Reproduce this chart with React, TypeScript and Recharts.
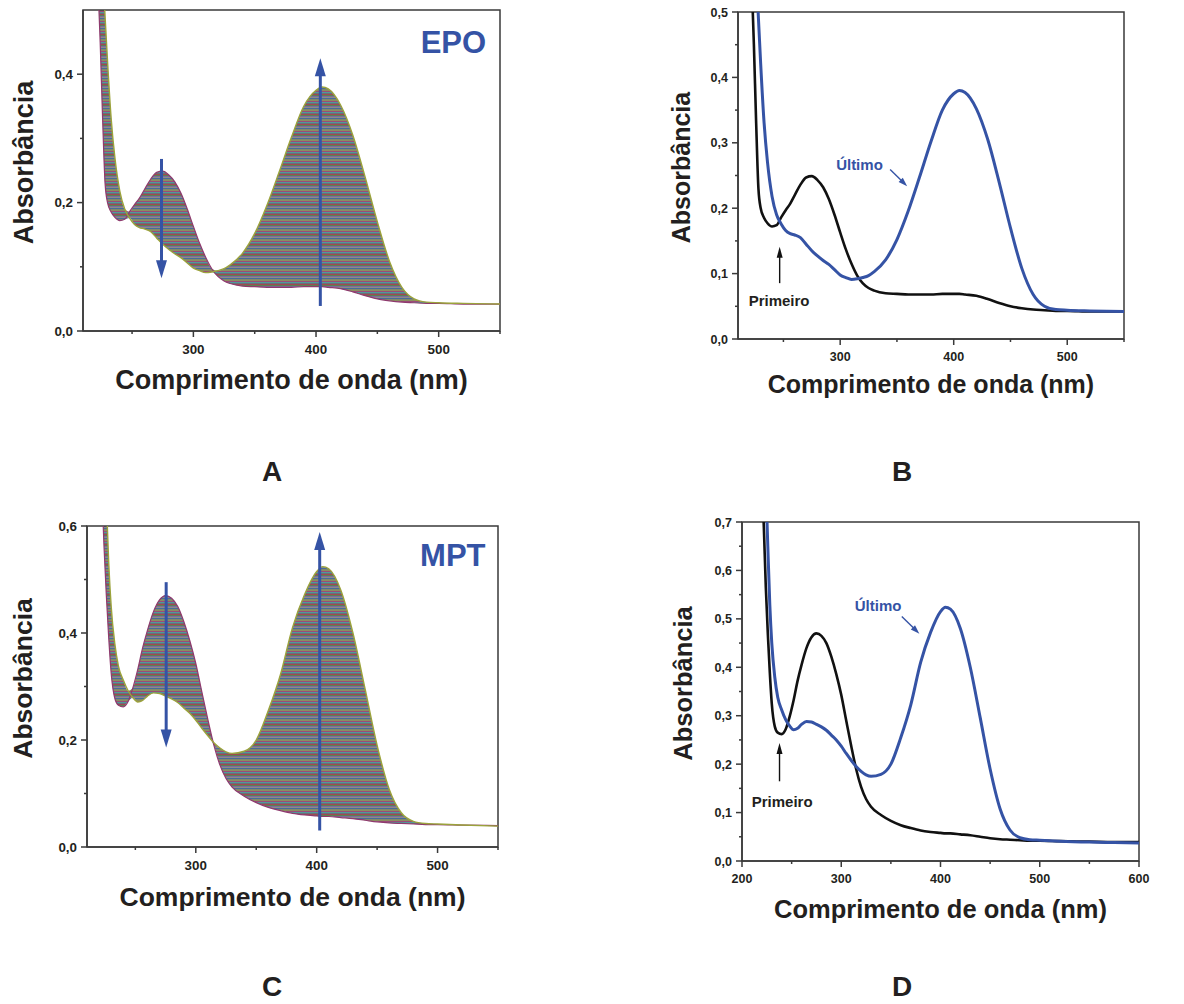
import React from 'react';
import {
  ComposedChart,
  Line,
  Area,
  XAxis,
  YAxis,
  ReferenceArea,
  ReferenceLine,
  ReferenceDot,
} from 'recharts';

const FONT = '"Liberation Sans", Arial, Helvetica, sans-serif';
const INK = '#231f20';
const AXIS = '#3a3a3a';
const BLUE = '#3553a5';

// EPO spectra (panels A and B), absorbance vs wavelength (nm)
const epoWavelength = [
  220, 222, 224, 226, 228, 230, 233, 236, 240, 244, 248, 252, 256, 260, 265, 270, 275, 280, 285, 290, 295, 300,
  305, 310, 315, 320, 325, 330, 340, 350, 360, 370, 380, 390, 400, 405, 410, 420, 430, 440, 450, 460, 470, 480,
  490, 500, 520, 550,
];
const epoFirst = [
  0.65, 0.55, 0.45, 0.33, 0.23, 0.2, 0.185, 0.177, 0.172, 0.174, 0.186, 0.197, 0.207, 0.22, 0.236, 0.247, 0.249,
  0.243, 0.232, 0.214, 0.19, 0.163, 0.137, 0.115, 0.097, 0.085, 0.078, 0.074, 0.07, 0.069, 0.068, 0.068, 0.068,
  0.069, 0.069, 0.069, 0.068, 0.066, 0.061, 0.055, 0.05, 0.047, 0.045, 0.044, 0.043, 0.043, 0.042, 0.042,
];
const epoLast = [
  0.9, 0.8, 0.68, 0.57, 0.49, 0.42, 0.33, 0.27, 0.218, 0.19, 0.176, 0.166, 0.161, 0.159, 0.155, 0.145, 0.135, 0.127,
  0.12, 0.114, 0.106, 0.098, 0.094, 0.091, 0.092, 0.094, 0.097, 0.103, 0.121, 0.152, 0.196, 0.248, 0.302, 0.35,
  0.375, 0.38, 0.377, 0.352, 0.305, 0.24, 0.17, 0.108, 0.068, 0.05, 0.045, 0.044, 0.043, 0.042,
];

// MPT spectra (panels C and D)
const mptWavelength = [
  220, 222, 224, 226, 228, 230, 233, 236, 240, 244, 248, 252, 256, 260, 265, 270, 275, 280, 285, 290, 295, 300,
  305, 310, 315, 320, 325, 330, 340, 350, 360, 370, 380, 390, 400, 405, 410, 420, 430, 440, 450, 460, 470, 480,
  490, 500, 520, 550, 575, 600,
];
const mptFirst = [
  0.8, 0.69, 0.565, 0.47, 0.39, 0.325, 0.278, 0.265, 0.262, 0.272, 0.298, 0.332, 0.372, 0.405, 0.44, 0.462, 0.47,
  0.465, 0.45, 0.422, 0.386, 0.343, 0.29, 0.238, 0.19, 0.153, 0.128, 0.112, 0.095, 0.083, 0.074, 0.068, 0.063, 0.06,
  0.058, 0.057, 0.057, 0.055, 0.053, 0.05, 0.047, 0.045, 0.044, 0.043, 0.042, 0.042, 0.041, 0.04, 0.039, 0.039,
];
const mptLast = [
  1.0, 0.9, 0.78, 0.65, 0.53, 0.45, 0.38, 0.338, 0.312, 0.292, 0.279, 0.271, 0.274, 0.282, 0.288, 0.287, 0.282,
  0.277, 0.27, 0.26, 0.25, 0.237, 0.222, 0.208, 0.195, 0.185, 0.178, 0.175, 0.179, 0.2, 0.255, 0.322, 0.41, 0.472,
  0.515, 0.524, 0.52, 0.48, 0.4, 0.296, 0.19, 0.108, 0.064, 0.048, 0.044, 0.043, 0.041, 0.039, 0.038, 0.037,
];

// colours of the densely packed intermediate spectra
const stripeColors = ['#8a8f60', '#9c4a78', '#4f9a9a', '#6a6e7a', '#a04a50', '#5c8050', '#7a6aa0', '#8c8c84', '#4a6a9a', '#7f8a6a'];

const buildRows = (wl: number[], first: number[], last: number[]) =>
  wl.map((w, i) => ({
    wl: w,
    first: first[i],
    last: last[i],
    band: [Math.min(first[i], last[i]), Math.max(first[i], last[i])],
  }));

const epoRows = buildRows(epoWavelength, epoFirst, epoLast);
const mptRows = buildRows(mptWavelength, mptFirst, mptLast);

const near = (list: number[], v: number) => list.some((m) => Math.abs(m - v) < 1e-6);

const yTick = (major: number[], fs: number) => (p: any) => {
  const v = p.payload.value;
  const isMajor = near(major, v);
  const ax = p.x + 10;
  return (
    <g>
      <line x1={ax} x2={ax - (isMajor ? 6 : 3)} y1={p.y} y2={p.y} stroke={AXIS} strokeWidth={1.5} />
      {isMajor && (
        <text x={p.x} y={p.y} dy={fs * 0.36} textAnchor="end" fontFamily={FONT} fontWeight="bold" fontSize={fs} fill={INK}>
          {v.toFixed(1).replace('.', ',')}
        </text>
      )}
    </g>
  );
};

const xTick = (major: number[], fs: number) => (p: any) => {
  const v = p.payload.value;
  const isMajor = near(major, v);
  const ay = p.y - 13;
  return (
    <g>
      <line x1={p.x} x2={p.x} y1={ay} y2={ay + (isMajor ? 6 : 3)} stroke={AXIS} strokeWidth={1.5} />
      {isMajor && (
        <text x={p.x} y={p.y} dy={fs * 0.72} textAnchor="middle" fontFamily={FONT} fontWeight="bold" fontSize={fs} fill={INK}>
          {v}
        </text>
      )}
    </g>
  );
};

const xTitle = (fs: number, below: number) => (p: any) => {
  const vb = p.viewBox;
  return (
    <text x={vb.x + vb.width / 2} y={vb.y + below} textAnchor="middle" fontFamily={FONT} fontWeight="bold" fontSize={fs} fill={INK}>
      Comprimento de onda (nm)
    </text>
  );
};

const yTitle = (fs: number, left: number) => (p: any) => {
  const vb = p.viewBox;
  const cx = vb.x + vb.width - left;
  const cy = vb.y + vb.height / 2 - 8;
  return (
    <text
      x={cx}
      y={cy}
      dy={fs * 0.36}
      transform={`rotate(-90, ${cx}, ${cy})`}
      textAnchor="middle"
      fontFamily={FONT}
      fontWeight="bold"
      fontSize={fs}
      fill={INK}
    >
      Absorbância
    </text>
  );
};

const arrowShape = (color: string, width: number, headW: number, headL: number) => (p: any) => {
  const x1 = Number(p.x1), y1 = Number(p.y1), x2 = Number(p.x2), y2 = Number(p.y2);
  const dx = x2 - x1, dy = y2 - y1;
  const len = Math.hypot(dx, dy) || 1;
  const ux = dx / len, uy = dy / len;
  const bx = x2 - ux * headL, by = y2 - uy * headL;
  const nx = -uy, ny = ux;
  return (
    <g>
      <line x1={x1} y1={y1} x2={bx + ux * 2} y2={by + uy * 2} stroke={color} strokeWidth={width} />
      <polygon
        points={`${x2},${y2} ${bx + (nx * headW) / 2},${by + (ny * headW) / 2} ${bx - (nx * headW) / 2},${by - (ny * headW) / 2}`}
        fill={color}
      />
    </g>
  );
};

const textShape = (txt: string, color: string, fs: number) => (p: any) => (
  <text x={p.cx} y={p.cy} textAnchor="middle" fontFamily={FONT} fontWeight="bold" fontSize={fs} fill={color}>
    {txt}
  </text>
);

type PanelProps = {
  left: number;
  top: number;
  width: number;
  height: number;
  margin: { top: number; right: number; bottom: number; left: number };
  yAxisWidth: number;
  rows: any[];
  xDomain: [number, number];
  xTicks: number[];
  xMajor: number[];
  yDomain: [number, number];
  yTicks: number[];
  yMajor: number[];
  tickFs: number;
  titleFs: number;
  xBelow: number;
  yLeft: number;
  family: boolean;
  patternId: string;
  notes: React.ReactNode[];
};

const Panel = (c: PanelProps) => (
  <div style={{ position: 'absolute', left: c.left, top: c.top }}>
    <ComposedChart width={c.width} height={c.height} data={c.rows} margin={c.margin}>
      <defs>
        <pattern id={c.patternId} width="6" height={stripeColors.length} patternUnits="userSpaceOnUse">
          {stripeColors.map((col, i) => (
            <rect key={col} x="0" y={i} width="6" height="1" fill={col} />
          ))}
        </pattern>
      </defs>
      <XAxis
        dataKey="wl"
        type="number"
        domain={c.xDomain}
        ticks={c.xTicks}
        interval={0}
        allowDataOverflow
        height={70}
        tickSize={6}
        tickMargin={7}
        tickLine={false}
        axisLine={{ stroke: AXIS, strokeWidth: 1.5 }}
        tick={xTick(c.xMajor, c.tickFs)}
        label={xTitle(c.titleFs, c.xBelow)}
      />
      <YAxis
        type="number"
        domain={c.yDomain}
        ticks={c.yTicks}
        interval={0}
        allowDataOverflow
        width={c.yAxisWidth}
        tickSize={6}
        tickMargin={4}
        tickLine={false}
        axisLine={{ stroke: AXIS, strokeWidth: 1.5 }}
        tick={yTick(c.yMajor, c.tickFs)}
        label={yTitle(c.titleFs, c.yLeft)}
      />
      {c.family && (
        <Area
          dataKey="band"
          type="monotone"
          stroke="none"
          fill={`url(#${c.patternId})`}
          fillOpacity={1}
          isAnimationActive={false}
          activeDot={false}
        />
      )}
      <Line
        dataKey="first"
        type="monotone"
        stroke={c.family ? '#8e3a6e' : '#111111'}
        strokeWidth={c.family ? 1.2 : 2.6}
        dot={false}
        activeDot={false}
        isAnimationActive={false}
      />
      <Line
        dataKey="last"
        type="monotone"
        stroke={c.family ? '#9ba33c' : BLUE}
        strokeWidth={c.family ? 1.4 : 3}
        dot={false}
        activeDot={false}
        isAnimationActive={false}
      />
      <ReferenceArea
        x1={c.xDomain[0]}
        x2={c.xDomain[1]}
        y1={c.yDomain[0]}
        y2={c.yDomain[1]}
        fill="none"
        stroke={AXIS}
        strokeWidth={1.5}
        fillOpacity={0}
      />
      {c.notes}
    </ComposedChart>
  </div>
);

const bigArrow = arrowShape(BLUE, 3, 11, 18);
const blackArrow = arrowShape('#111111', 1.4, 6, 11);
const blueArrow = arrowShape(BLUE, 1.4, 6, 9);

const xTicksShort = [250, 300, 350, 400, 450, 500, 550];
const xMajorShort = [300, 400, 500];

const notesA = [
  <ReferenceLine key="a1" segment={[{ x: 274, y: 0.268 }, { x: 274, y: 0.082 }]} shape={bigArrow} />,
  <ReferenceLine key="a2" segment={[{ x: 403.5, y: 0.039 }, { x: 403.5, y: 0.425 }]} shape={bigArrow} />,
  <ReferenceDot key="a3" x={512} y={0.433} r={0} shape={textShape('EPO', BLUE, 31)} />,
];

const notesB = [
  <ReferenceLine key="b1" segment={[{ x: 246.7, y: 0.0854 }, { x: 246.7, y: 0.141 }]} shape={blackArrow} />,
  <ReferenceDot key="b2" x={246.2} y={0.0508} r={0} shape={textShape('Primeiro', INK, 15)} />,
  <ReferenceDot key="b3" x={317} y={0.259} r={0} shape={textShape('Último', BLUE, 15)} />,
  <ReferenceLine key="b4" segment={[{ x: 344, y: 0.259 }, { x: 359, y: 0.2337 }]} shape={blueArrow} />,
];

const notesC = [
  <ReferenceLine key="c1" segment={[{ x: 275.5, y: 0.495 }, { x: 275.5, y: 0.186 }]} shape={bigArrow} />,
  <ReferenceLine key="c2" segment={[{ x: 402.5, y: 0.031 }, { x: 402.5, y: 0.589 }]} shape={bigArrow} />,
  <ReferenceDot key="c3" x={512.6} y={0.5245} r={0} shape={textShape('MPT', BLUE, 31)} />,
];

const notesD = [
  <ReferenceLine key="d1" segment={[{ x: 237.8, y: 0.1646 }, { x: 237.8, y: 0.2437 }]} shape={blackArrow} />,
  <ReferenceDot key="d2" x={240.5} y={0.1115} r={0} shape={textShape('Primeiro', INK, 15)} />,
  <ReferenceDot key="d3" x={337.1} y={0.5156} r={0} shape={textShape('Último', BLUE, 15)} />,
  <ReferenceLine key="d4" segment={[{ x: 361, y: 0.505 }, { x: 378.7, y: 0.4695 }]} shape={blueArrow} />,
];

const letter = (txt: string, x: number, y: number) => (
  <div
    style={{
      position: 'absolute',
      left: x - 20,
      top: y,
      width: 40,
      textAlign: 'center',
      fontFamily: FONT,
      fontWeight: 'bold',
      fontSize: 28,
      lineHeight: '28px',
      color: INK,
    }}
  >
    {txt}
  </div>
);

export default function App() {
  return (
    <div style={{ position: 'absolute', left: 0, top: 0, width: 1184, height: 1004, background: '#fff', overflow: 'hidden' }}>
      <Panel
        left={0}
        top={0}
        width={520}
        height={420}
        margin={{ top: 10, right: 20, bottom: 19, left: 0 }}
        yAxisWidth={83}
        rows={epoRows}
        xDomain={[210, 550]}
        xTicks={xTicksShort}
        xMajor={xMajorShort}
        yDomain={[0, 0.5]}
        yTicks={[0, 0.1, 0.2, 0.3, 0.4]}
        yMajor={[0, 0.2, 0.4]}
        tickFs={13.4}
        titleFs={27}
        xBelow={58}
        yLeft={60}
        family
        patternId="stripesA"
        notes={notesA}
      />
      <Panel
        left={640}
        top={0}
        width={520}
        height={420}
        margin={{ top: 12, right: 36, bottom: 11, left: 0 }}
        yAxisWidth={98}
        rows={epoRows}
        xDomain={[210, 550]}
        xTicks={xTicksShort}
        xMajor={xMajorShort}
        yDomain={[0, 0.5]}
        yTicks={[0, 0.05, 0.1, 0.15, 0.2, 0.25, 0.3, 0.35, 0.4, 0.45, 0.5]}
        yMajor={[0, 0.1, 0.2, 0.3, 0.4, 0.5]}
        tickFs={12.5}
        titleFs={25}
        xBelow={54}
        yLeft={57}
        family={false}
        patternId="stripesB"
        notes={notesB}
      />
      <Panel
        left={0}
        top={500}
        width={520}
        height={420}
        margin={{ top: 26, right: 22, bottom: 3, left: 0 }}
        yAxisWidth={87}
        rows={mptRows}
        xDomain={[210, 550]}
        xTicks={xTicksShort}
        xMajor={xMajorShort}
        yDomain={[0, 0.6]}
        yTicks={[0, 0.1, 0.2, 0.3, 0.4, 0.5, 0.6]}
        yMajor={[0, 0.2, 0.4, 0.6]}
        tickFs={13.4}
        titleFs={26.5}
        xBelow={59}
        yLeft={65}
        family
        patternId="stripesC"
        notes={notesC}
      />
      <Panel
        left={640}
        top={500}
        width={544}
        height={440}
        margin={{ top: 22, right: 45, bottom: 9, left: 0 }}
        yAxisWidth={102}
        rows={mptRows}
        xDomain={[200, 600]}
        xTicks={[200, 250, 300, 350, 400, 450, 500, 550, 600]}
        xMajor={[200, 300, 400, 500, 600]}
        yDomain={[0, 0.7]}
        yTicks={[0, 0.05, 0.1, 0.15, 0.2, 0.25, 0.3, 0.35, 0.4, 0.45, 0.5, 0.55, 0.6, 0.65, 0.7]}
        yMajor={[0, 0.1, 0.2, 0.3, 0.4, 0.5, 0.6, 0.7]}
        tickFs={12.5}
        titleFs={25.5}
        xBelow={57}
        yLeft={59}
        family={false}
        patternId="stripesD"
        notes={notesD}
      />
      {letter('A', 272, 458)}
      {letter('B', 902, 458)}
      {letter('C', 272, 973)}
      {letter('D', 902, 973)}
    </div>
  );
}
